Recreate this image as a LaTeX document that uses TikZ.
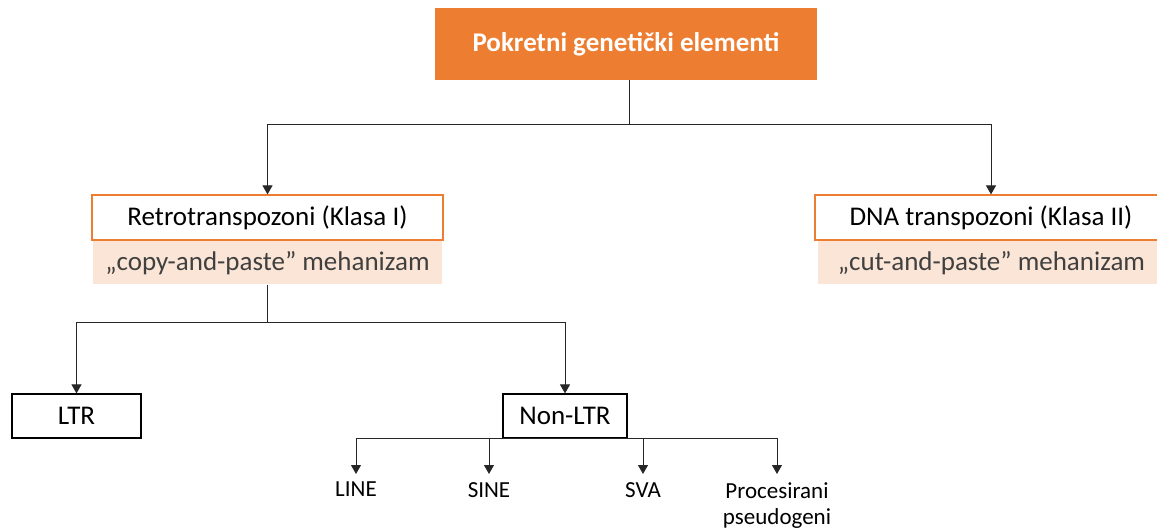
\documentclass[tikz,border=0pt]{standalone}
\usepackage{fontspec}
\setmainfont{Carlito}
\usetikzlibrary{arrows.meta}
\definecolor{orng}{HTML}{ED7D31}
\definecolor{peach}{HTML}{FBE5D6}
\definecolor{gtext}{HTML}{404040}
\begin{document}
\begin{tikzpicture}[x=1pt,y=-1pt,
  conn/.style={draw=black!85, line width=1pt},
  arr/.style={conn,-{Triangle[width=10pt,length=9pt]}},
  bigtext/.style={font=\fontsize{27}{32}\selectfont},
  titlebox/.style={bigtext, font=\fontsize{27}{32}\selectfont\bfseries, fill=orng, text=white, inner sep=0pt, minimum width=382pt, minimum height=72pt},
  classbox/.style={bigtext, draw=orng, line width=1.2pt, fill=white, inner sep=0pt, minimum width=351pt, minimum height=45pt},
  mechbox/.style={bigtext, fill=peach, text=gtext, inner sep=0pt, minimum width=349pt, minimum height=43pt},
  typebox/.style={bigtext, draw=black, line width=1.2pt, inner sep=0pt, minimum height=44pt},
  leaf/.style={font=\fontsize{23}{26}\selectfont, inner xsep=0pt, inner ysep=8pt, anchor=north, align=center}
]
\useasboundingbox (0,0) rectangle (1157,529);
\clip (0,0) rectangle (1157,529);

\node[titlebox] (top) at (626,44) {Pokretni genetički elementi};

\node[classbox] (retro) at (267.5,217.5) {Retrotranspozoni (Klasa I)};
\node[mechbox] (copy) at (267.5,263) {„copy-and-paste” mehanizam};

\node[classbox, minimum width=352pt] (dna) at (991,217.5) {DNA transpozoni (Klasa II)};
\node[mechbox, minimum width=347pt] (cut) at (991.5,263) {„cut-and-paste” mehanizam};

\node[typebox, minimum width=129pt] (ltr) at (76.5,416) {LTR};
\node[typebox, minimum width=124pt] (nonltr) at (565,416) {Non-LTR};

\node[leaf] (line) at (356,474) {LINE};
\node[leaf] (sine) at (489,474) {SINE};
\node[leaf] (sva) at (643,474) {SVA};
\node[leaf] (proc) at (777,474) {Procesirani\\pseudogeni};

\coordinate (j1) at (629,125);
\coordinate (j2) at (267.5,323);

\draw[conn] (top.south -| j1) -- (j1);
\draw[arr] (j1) -| (retro.north);
\draw[arr] (j1) -| (dna.north);

\draw[conn] (copy.south) -- (j2);
\draw[arr] (j2) -| (ltr.north);
\draw[arr] (j2) -| (nonltr.north);

\draw[arr] (nonltr.south) -| (line.north);
\draw[arr] (nonltr.south) -| (sine.north);
\draw[arr] (nonltr.south) -| (sva.north);
\draw[arr] (nonltr.south) -| (proc.north);
\end{tikzpicture}
\end{document}
